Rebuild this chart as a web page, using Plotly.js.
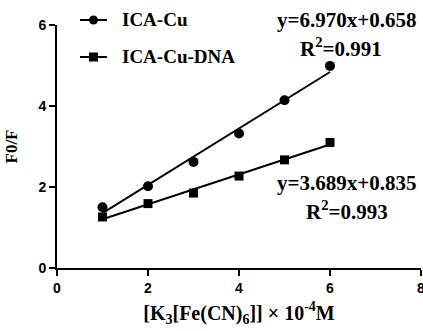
<!DOCTYPE html>
<html><head><meta charset="utf-8">
<script src="https://cdn.plot.ly/plotly-3.0.1.min.js"></script>
<style>html,body{margin:0;padding:0;background:#fff;}#c{width:423px;height:331px;}</style>
</head><body><div id="c"></div>
<script>
const xConc = [1, 2, 3, 4, 5, 6];
const icaCu = [1.50, 2.02, 2.62, 3.32, 4.14, 4.99];
const icaCuDna = [1.26, 1.59, 1.85, 2.27, 2.67, 3.10];
const fitX = [1, 6];
const fitCu = [1.355, 4.84];
const fitCuDna = [1.204, 3.048];
const seriesNames = ['ICA-Cu', 'ICA-Cu-DNA'];
const eqCu = ['y=6.970x+0.658', 'R<sup>2</sup>=0.991'];
const eqDna = ['y=3.689x+0.835', 'R<sup>2</sup>=0.993'];
const xTicks = [0, 2, 4, 6, 8];
const yTicks = [0, 2, 4, 6];

const serif = {family: 'Liberation Serif', size: 19, color: '#000'};
const eqFont = {family: 'Liberation Serif', size: 21, color: '#000'};
const sans = {family: 'Liberation Sans', size: 14, color: '#000'};
const b = t => '<b>' + t + '</b>';

const traces = [
  {x: fitX, y: fitCu, mode: 'lines', line: {color: '#000', width: 2}, showlegend: false, cliponaxis: false},
  {x: fitX, y: fitCuDna, mode: 'lines', line: {color: '#000', width: 2}, showlegend: false, cliponaxis: false},
  {x: xConc, y: icaCu, mode: 'markers', marker: {symbol: 'circle', size: 10, color: '#000'}, showlegend: false, cliponaxis: false},
  {x: xConc, y: icaCuDna, mode: 'markers', marker: {symbol: 'square', size: 9, color: '#000'}, showlegend: false, cliponaxis: false}
];

function legendShapes(yPix, sym) {
  const s = [{type: 'line', xref: 'paper', yref: 'paper', xsizemode: 'pixel', ysizemode: 'pixel',
    xanchor: 0, yanchor: 1, x0: 23, x1: 50, y0: 25 - yPix, y1: 25 - yPix, line: {color: '#000', width: 2}}];
  s.push({type: sym, xref: 'paper', yref: 'paper', xsizemode: 'pixel', ysizemode: 'pixel',
    xanchor: 0, yanchor: 1, x0: 36.5 - 4.5, x1: 36.5 + 4.5, y0: 25 - yPix - 4.5, y1: 25 - yPix + 4.5,
    fillcolor: '#000', line: {color: '#000', width: 0}});
  return s;
}

const shapes = [].concat(legendShapes(20, 'circle'), legendShapes(57, 'rect'));

function ann(text, xpx, ypx) {
  return {text: b(text), xref: 'paper', yref: 'paper', x: (xpx - 57) / 364, y: (268 - ypx) / 243,
    xanchor: 'center', yanchor: 'middle', showarrow: false, font: eqFont};
}
function legText(text, ypx) {
  return {text: b(text), xref: 'paper', yref: 'paper', x: (120 - 57) / 364, y: (268 - ypx) / 243,
    xanchor: 'left', yanchor: 'middle', showarrow: false, font: serif};
}

const layout = {
  width: 423, height: 331,
  margin: {l: 57, r: 2, t: 25, b: 63},
  paper_bgcolor: '#fff', plot_bgcolor: '#fff',
  showlegend: false,
  xaxis: {range: [0, 8], tickvals: xTicks, ticktext: xTicks.map(v => b(String(v))), showgrid: false, zeroline: false,
    showline: true, linewidth: 2, linecolor: '#000', ticks: 'outside', ticklen: 6, tickwidth: 2, tickcolor: '#000',
    tickfont: sans, ticklabeloverflow: 'allow',
    title: {text: b('[K<sub>3</sub>[Fe(CN)<sub>6</sub>]] × 10<sup>-4</sup>M'), font: {family: 'Liberation Serif', size: 20, color: '#000'}, standoff: 11}},
  yaxis: {range: [0, 6], tickvals: yTicks, ticktext: yTicks.map(v => b(String(v))), showgrid: false, zeroline: false,
    showline: true, linewidth: 2, linecolor: '#000', ticks: 'outside', ticklen: 6, tickwidth: 2, tickcolor: '#000',
    tickfont: sans, ticklabeloverflow: 'allow',
    title: {text: b('F0/F'), font: {family: 'Liberation Serif', size: 17, color: '#000'}, standoff: 16}},
  shapes: shapes,
  annotations: [
    legText(seriesNames[0], 20), legText(seriesNames[1], 57),
    ann(eqCu[0], 346, 20), ann(eqCu[1], 341, 47),
    ann(eqDna[0], 346, 183), ann(eqDna[1], 347, 210)
  ]
};

Plotly.newPlot('c', traces, layout, {displayModeBar: false, staticPlot: true});
</script></body></html>
